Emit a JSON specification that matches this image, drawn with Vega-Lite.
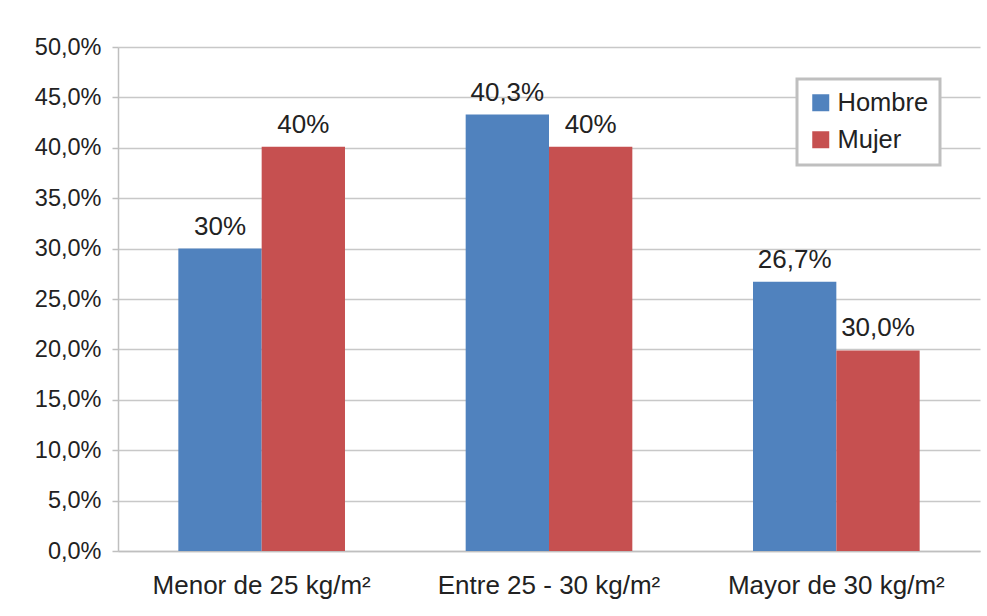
{
  "$schema": "https://vega.github.io/schema/vega-lite/v6.json",
  "width": 862,
  "height": 504,
  "autosize": {"type": "none"},
  "padding": {"left": 118, "top": 47, "right": 7, "bottom": 65},
  "background": "white",
  "config": {"font": "Liberation Sans", "view": {"stroke": null}},
  "data": {
    "values": [
      {"cat": "Menor de 25 kg/m²", "sexo": "Hombre", "valor": 30.0, "etiqueta": "30%"},
      {"cat": "Menor de 25 kg/m²", "sexo": "Mujer", "valor": 40.1, "etiqueta": "40%"},
      {"cat": "Entre 25 - 30 kg/m²", "sexo": "Hombre", "valor": 43.3, "etiqueta": "40,3%"},
      {"cat": "Entre 25 - 30 kg/m²", "sexo": "Mujer", "valor": 40.1, "etiqueta": "40%"},
      {"cat": "Mayor de 30 kg/m²", "sexo": "Hombre", "valor": 26.7, "etiqueta": "26,7%"},
      {"cat": "Mayor de 30 kg/m²", "sexo": "Mujer", "valor": 19.9, "etiqueta": "30,0%"}
    ]
  },
  "encoding": {
    "x": {
      "field": "cat",
      "type": "nominal",
      "sort": null,
      "scale": {"paddingInner": 0.42, "paddingOuter": 0.21},
      "axis": {
        "title": null,
        "labelAngle": 0,
        "labelFontSize": 26,
        "labelLimit": 0,
        "labelColor": "#222222",
        "ticks": false,
        "domainColor": "#BFBFBF",
        "domainWidth": 1.5,
        "labelPadding": 21,
        "grid": false
      }
    },
    "xOffset": {
      "field": "sexo",
      "type": "nominal",
      "sort": ["Hombre", "Mujer"],
      "scale": {"paddingInner": 0, "paddingOuter": 0}
    },
    "y": {
      "field": "valor",
      "type": "quantitative",
      "scale": {"domain": [0, 50], "nice": false},
      "axis": {
        "title": null,
        "values": [0, 5, 10, 15, 20, 25, 30, 35, 40, 45, 50],
        "labelExpr": "replace(format(datum.value, '.1f'), '.', ',') + '%'",
        "labelFontSize": 23.5,
        "labelColor": "#222222",
        "tickSize": 6,
        "tickColor": "#BFBFBF",
        "tickWidth": 1.5,
        "domainColor": "#BFBFBF",
        "domainWidth": 1.5,
        "gridColor": "#C8C8C8",
        "gridWidth": 1.5,
        "labelPadding": 11
      }
    }
  },
  "layer": [
    {
      "mark": {"type": "bar"},
      "encoding": {
        "color": {
          "field": "sexo",
          "type": "nominal",
          "scale": {"domain": ["Hombre", "Mujer"], "range": ["#5082BE", "#C65050"]},
          "legend": {
            "title": null,
            "orient": "none",
            "legendX": 679,
            "legendY": 32,
            "symbolType": "square",
            "symbolSize": 289,
            "symbolStrokeWidth": 0,
            "labelFontSize": 25.5,
            "labelColor": "#222222",
            "strokeColor": "#BFBFBF",
            "fillColor": "white",
            "padding": 11,
            "rowPadding": 10,
            "labelOffset": 4,
            "encode": {
              "legend": {"update": {"strokeWidth": {"value": 3}}}
            }
          }
        }
      }
    },
    {
      "mark": {"type": "text", "baseline": "alphabetic", "dy": -14, "fontSize": 26, "color": "#222222"},
      "encoding": {"text": {"field": "etiqueta"}}
    }
  ]
}
